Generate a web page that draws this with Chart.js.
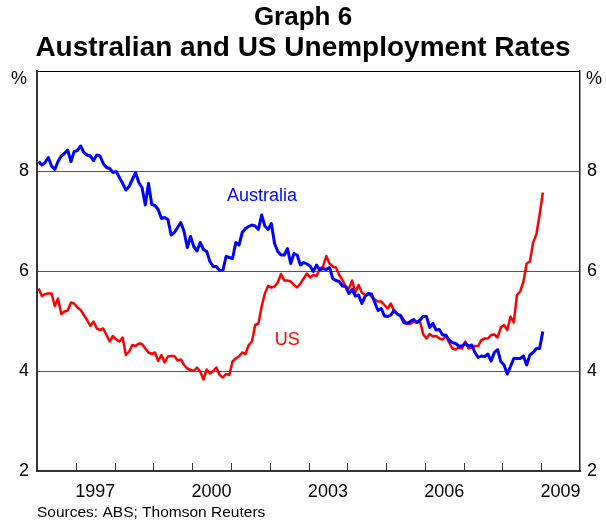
<!DOCTYPE html>
<html>
<head>
<meta charset="utf-8">
<title>Graph 6</title>
<script src="https://cdn.jsdelivr.net/npm/chart.js@4.4.1/dist/chart.umd.min.js"></script>
<style>
  html, body { margin: 0; padding: 0; background: #fff; }
  canvas { display: block; }
</style>
</head>
<body>
<canvas id="chart" width="606" height="522"></canvas>
<script>
// Monthly unemployment rates (%), Jan 1996 .. Jan 2009
const startYear = 1996;

const ausRate = [
  8.19, 8.12, 8.17, 8.27, 8.10, 8.03, 8.19, 8.30, 8.35, 8.42, 8.19, 8.39, // 1996
  8.41, 8.50, 8.37, 8.32, 8.30, 8.21, 8.32, 8.30, 8.15, 8.07, 8.05, 7.97, // 1997
  7.99, 7.87, 7.75, 7.62, 7.69, 7.83, 7.97, 7.77, 7.67, 7.32, 7.75, 7.33, // 1998
  7.31, 7.23, 7.05, 7.07, 7.03, 6.72, 6.77, 6.87, 6.97, 6.79, 6.47, 6.69, // 1999
  6.49, 6.40, 6.57, 6.43, 6.39, 6.19, 6.09, 6.09, 6.01, 6.01, 6.29, 6.27, // 2000
  6.25, 6.57, 6.52, 6.77, 6.85, 6.89, 6.92, 6.90, 6.83, 7.12, 6.90, 6.83, // 2001
  6.95, 6.55, 6.39, 6.32, 6.32, 6.45, 6.15, 6.35, 6.32, 6.12, 6.17, 6.14, // 2002
  6.10, 5.99, 6.12, 6.02, 6.05, 6.03, 6.07, 5.85, 5.81, 5.79, 5.70, 5.69, // 2003
  5.55, 5.63, 5.50, 5.52, 5.35, 5.49, 5.55, 5.54, 5.37, 5.21, 5.25, 5.10, // 2004
  5.09, 5.12, 5.21, 5.14, 5.10, 4.97, 4.95, 4.99, 5.03, 4.97, 5.02, 5.09, // 2005
  5.09, 4.87, 4.95, 4.82, 4.83, 4.72, 4.72, 4.62, 4.57, 4.55, 4.50, 4.50, // 2006
  4.55, 4.50, 4.52, 4.37, 4.27, 4.30, 4.29, 4.34, 4.20, 4.37, 4.43, 4.19, // 2007
  4.12, 3.94, 4.09, 4.25, 4.25, 4.25, 4.30, 4.12, 4.32, 4.37, 4.45, 4.45, // 2008
  4.79                                                                    // 2009
];

const usRate = [
  5.65, 5.50, 5.54, 5.55, 5.55, 5.30, 5.45, 5.14, 5.19, 5.21, 5.37, 5.35, // 1996
  5.27, 5.22, 5.12, 5.02, 4.90, 4.99, 4.85, 4.82, 4.85, 4.72, 4.59, 4.70, // 1997
  4.63, 4.59, 4.67, 4.32, 4.39, 4.52, 4.50, 4.55, 4.54, 4.45, 4.37, 4.34, // 1998
  4.37, 4.20, 4.32, 4.17, 4.29, 4.30, 4.30, 4.21, 4.23, 4.12, 4.05, 4.02, // 1999
  4.00, 4.07, 3.99, 3.83, 4.03, 3.95, 4.00, 4.07, 3.92, 3.87, 3.94, 3.92, // 2000
  4.19, 4.25, 4.29, 4.37, 4.34, 4.52, 4.59, 4.92, 4.95, 5.29, 5.55, 5.70, // 2001
  5.67, 5.69, 5.77, 5.94, 5.81, 5.81, 5.79, 5.72, 5.67, 5.75, 5.85, 5.95, // 2002
  5.87, 5.92, 5.90, 6.05, 6.09, 6.30, 6.15, 6.09, 6.07, 5.92, 5.82, 5.69, // 2003
  5.65, 5.81, 5.57, 5.72, 5.57, 5.52, 5.54, 5.49, 5.43, 5.39, 5.39, 5.32, // 2004
  5.25, 5.35, 5.19, 5.14, 5.12, 5.02, 4.95, 4.94, 4.99, 4.97, 4.99, 4.73, // 2005
  4.65, 4.74, 4.69, 4.70, 4.65, 4.63, 4.70, 4.57, 4.45, 4.43, 4.47, 4.45, // 2006
  4.59, 4.45, 4.47, 4.50, 4.50, 4.62, 4.65, 4.65, 4.72, 4.73, 4.67, 4.87, // 2007
  4.92, 4.82, 5.09, 4.97, 5.52, 5.59, 5.79, 6.15, 6.19, 6.57, 6.73, 7.13, // 2008
  7.57                                                                    // 2009
];

const yearLabels = [1997, 2000, 2003, 2006, 2009];
const rateMin = 2;
const rateMax = 10;
const rateStep = 2;

const seriesNames = ['Australia', 'US'];
const seriesColors = ['#0000ff', '#ff0000'];
// where the series names sit inside the plot, in data units
const nameSpots = [
  { year: 2001.8, rate: 7.5 },
  { year: 2002.45, rate: 4.62 }
];

const FONT = "'Liberation Sans', Arial, Helvetica, sans-serif";

// month i is plotted at the middle of that month
function toPoints(values) {
  return values.map((v, i) => ({ x: startYear + (i + 0.5) / 12, y: v }));
}

const decorations = {
  id: 'decorations',
  afterDatasetsDraw(chart) {
    const { ctx, chartArea, scales } = chart;
    const xs = scales.x, ys = scales.y;
    ctx.save();

    // year tick marks, pointing up into the plot
    ctx.strokeStyle = '#333';
    ctx.lineWidth = 1;
    ctx.beginPath();
    for (let yr = xs.min + 1; yr < xs.max; yr++) {
      const px = Math.round(xs.getPixelForValue(yr)) + 0.5;
      ctx.moveTo(px, chartArea.bottom);
      ctx.lineTo(px, chartArea.bottom - 8);
    }
    ctx.stroke();

    // unit labels on both sides
    ctx.fillStyle = '#000';
    ctx.font = '18px ' + FONT;
    ctx.textBaseline = 'middle';
    const py = ys.getPixelForValue(rateMax) + 8;
    ctx.textAlign = 'right';
    ctx.fillText('%', chartArea.left - 10, py);
    ctx.textAlign = 'left';
    ctx.fillText('%', chartArea.right + 6, py);

    // series names
    ctx.textAlign = 'center';
    seriesNames.forEach((name, i) => {
      ctx.fillStyle = seriesColors[i];
      ctx.fillText(name, xs.getPixelForValue(nameSpots[i].year), ys.getPixelForValue(nameSpots[i].rate));
    });
    ctx.restore();
  }
};

const tickFont = { family: FONT, size: 18 };

new Chart(document.getElementById('chart'), {
  type: 'line',
  data: {
    datasets: [
      { label: seriesNames[0], data: toPoints(ausRate), borderColor: seriesColors[0], borderWidth: 3 },
      { label: seriesNames[1], data: toPoints(usRate), borderColor: seriesColors[1], borderWidth: 2.5 }
    ]
  },
  options: {
    responsive: false,
    animation: false,
    devicePixelRatio: 1,
    layout: { padding: 0 },
    elements: {
      point: { radius: 0, hoverRadius: 0 },
      line: { tension: 0, fill: false, borderJoinStyle: 'round' }
    },
    plugins: {
      legend: { display: false },
      tooltip: { enabled: false },
      title: {
        display: true,
        text: 'Graph 6',
        color: '#000',
        font: { family: FONT, size: 26, weight: 'bold', lineHeight: '30px' },
        padding: { top: 3, bottom: 0 }
      },
      subtitle: {
        display: true,
        text: 'Australian and US Unemployment Rates',
        color: '#000',
        font: { family: FONT, size: 28, weight: 'bold', lineHeight: '30px' },
        padding: { top: 0, bottom: 8 }
      }
    },
    scales: {
      x: {
        type: 'linear',
        min: startYear,
        max: 2010,
        grid: { display: false, drawTicks: false },
        border: { display: true, color: '#333', width: 2 },
        afterBuildTicks(scale) {
          scale.ticks = yearLabels.map(y => ({ value: y + 0.5 }));
        },
        afterFit(scale) { scale.height = 51; },
        ticks: {
          color: '#000',
          font: tickFont,
          padding: 10,
          maxRotation: 0,
          autoSkip: false,
          callback: v => String(Math.floor(v))
        },
        title: {
          display: true,
          align: 'start',
          text: 'Sources: ABS; Thomson Reuters',
          color: '#000',
          font: { family: FONT, size: 15.5, lineHeight: '19px' },
          padding: { top: 0, bottom: 0 }
        }
      },
      y: {
        position: 'left',
        min: rateMin,
        max: rateMax,
        afterFit(scale) { scale.width = 37; },
        grid: {
          drawTicks: false,
          lineWidth: 1,
          color: c => c.tick.value === rateMax ? '#000' : (c.tick.value === rateMin ? 'rgba(0,0,0,0)' : '#555')
        },
        border: { display: true, color: '#333', width: 2 },
        ticks: {
          stepSize: rateStep,
          color: '#000',
          font: tickFont,
          padding: 8,
          callback: v => v === rateMax ? '' : String(v)
        }
      },
      y2: {
        position: 'right',
        min: rateMin,
        max: rateMax,
        afterFit(scale) { scale.width = 26; },
        grid: { drawOnChartArea: false, drawTicks: false },
        border: { display: true, color: '#222', width: 1.5 },
        ticks: {
          stepSize: rateStep,
          color: '#000',
          font: tickFont,
          padding: 7,
          callback: v => v === rateMax ? '' : String(v)
        }
      }
    }
  },
  plugins: [decorations]
});
</script>
</body>
</html>
